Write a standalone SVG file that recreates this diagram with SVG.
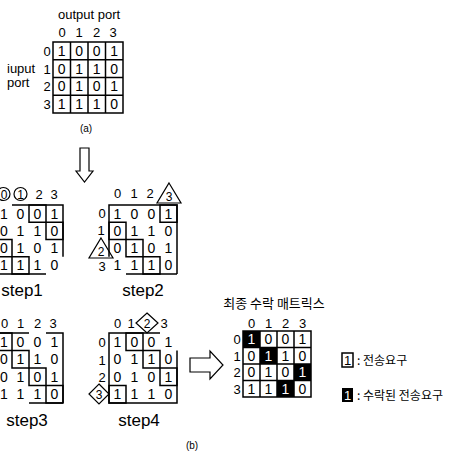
<svg xmlns="http://www.w3.org/2000/svg" width="472" height="453" viewBox="0 0 472 453">
<style>
text{font-family:"Liberation Sans",Arial,sans-serif;fill:#000}
.d{font-size:14px;text-anchor:middle}
.h{font-size:13px;text-anchor:middle}
.s{font-size:17px;text-anchor:middle}
.k{font-family:"Noto Sans CJK KR","Liberation Sans",sans-serif;font-size:12px}
.ln{stroke:#000;stroke-width:1.5;fill:none}
.bx{stroke:#000;stroke-width:1.5;fill:none}
.mk{stroke:#000;stroke-width:1.2;fill:#fff}
.w{fill:#fff}
</style>
<rect width="472" height="453" fill="#fff"/>

<g id="matrix-a">
<text x="89" y="19" class="h">output port</text>
<text x="62" y="37" class="h">0</text><text x="79" y="37" class="h">1</text><text x="96.5" y="37" class="h">2</text><text x="113" y="37" class="h">3</text>
<text x="7" y="73" style="font-size:13px">iuput</text>
<text x="7" y="87" style="font-size:13px">port</text>
<text x="47" y="56" class="h">0</text><text x="47" y="73.5" class="h">1</text><text x="47" y="91" class="h">2</text><text x="47" y="109" class="h">3</text>
<path class="ln" d="M53,42H123V113H53Z M70.5,42V113 M88,42V113 M105.5,42V113 M53,59.75H123 M53,77.5H123 M53,95.25H123"/>
<g class="d">
<text x="61.75" y="55.9">1</text><text x="79.25" y="55.9">0</text><text x="96.75" y="55.9">0</text><text x="114.25" y="55.9">1</text>
<text x="61.75" y="73.6">0</text><text x="79.25" y="73.6">1</text><text x="96.75" y="73.6">1</text><text x="114.25" y="73.6">0</text>
<text x="61.75" y="91.4">0</text><text x="79.25" y="91.4">1</text><text x="96.75" y="91.4">0</text><text x="114.25" y="91.4">1</text>
<text x="61.75" y="109.1">1</text><text x="79.25" y="109.1">1</text><text x="96.75" y="109.1">1</text><text x="114.25" y="109.1">0</text>
</g>
<text x="86" y="132" style="font-size:10px;text-anchor:middle">(a)</text>
</g>

<g id="step1">
<circle class="mk" cx="3.5" cy="194" r="6.5"/><circle class="mk" cx="20.5" cy="194" r="6.5"/>
<text x="4" y="198.5" class="h" style="font-size:12px">0</text><text x="20.5" y="198.5" class="h" style="font-size:12px">1</text>
<text x="39" y="199" class="h">2</text><text x="54" y="199" class="h">3</text>
<path class="ln" d="M12,205H63V256.75 M-5,274H46"/>
<path class="bx" d="M29,205h17v17.25h-17z M46,222.25h17v17.25h-17z M-5,239.5h17v17.25h-17z M12,256.75h17v17.25h-17z"/>
<g class="d">
<text x="4" y="218.6">1</text><text x="20.5" y="218.6">0</text><text x="37.5" y="218.6">0</text><text x="54.5" y="218.6">1</text>
<text x="4" y="235.9">0</text><text x="20.5" y="235.9">1</text><text x="37.5" y="235.9">1</text><text x="54.5" y="235.9">0</text>
<text x="4" y="253.1">0</text><text x="20.5" y="253.1">1</text><text x="37.5" y="253.1">0</text><text x="54.5" y="253.1">1</text>
<text x="4" y="270.4">1</text><text x="20.5" y="270.4">1</text><text x="37.5" y="270.4">1</text><text x="54.5" y="270.4">0</text>
</g>
<text x="22" y="296" class="s">step1</text>
</g>

<g id="step2">
<text x="117.5" y="198" class="h">0</text><text x="134" y="198" class="h">1</text><text x="150" y="198" class="h">2</text>
<polygon class="mk" points="169,183 181,203 157,203"/>
<text x="169" y="201" class="h" style="font-size:12px">3</text>
<text x="102" y="218" class="h">0</text><text x="101" y="235" class="h">1</text>
<polygon class="mk" points="101,238 113,258 89,258"/>
<text x="101" y="256" class="h" style="font-size:12px">2</text>
<text x="102" y="271" class="h">3</text>
<path class="ln" d="M109,256.75V205H177V274 M126,274H177"/>
<path class="bx" d="M160,205h17v17.25h-17z M109,222.25h17v17.25h-17z M126,239.5h17v17.25h-17z M143,256.75h17v17.25h-17z"/>
<g class="d">
<text x="117.5" y="218.6">1</text><text x="134.5" y="218.6">0</text><text x="151.5" y="218.6">0</text><text x="168.5" y="218.6">1</text>
<text x="117.5" y="235.9">0</text><text x="134.5" y="235.9">1</text><text x="151.5" y="235.9">1</text><text x="168.5" y="235.9">0</text>
<text x="117.5" y="253.1">0</text><text x="134.5" y="253.1">1</text><text x="151.5" y="253.1">0</text><text x="168.5" y="253.1">1</text>
<text x="117.5" y="270.4">1</text><text x="134.5" y="270.4">1</text><text x="151.5" y="270.4">1</text><text x="168.5" y="270.4">0</text>
</g>
<text x="143" y="296" class="s">step2</text>
</g>

<g id="step3">
<text x="4.5" y="328" class="h">0</text><text x="20.5" y="328" class="h">1</text><text x="37.5" y="328" class="h">2</text><text x="53" y="328" class="h">3</text>
<path class="ln" d="M-5,333H29 M46,333H63V403 M29,403H63"/>
<path class="bx" d="M-5,333h17v17.5h-17z M12,350.5h17v17.5h-17z M29,368h17v17.5h-17z M46,385.5h17v17.5h-17z"/>
<g class="d">
<text x="4" y="346.8">1</text><text x="20.5" y="346.8">0</text><text x="37.5" y="346.8">0</text><text x="54.5" y="346.8">1</text>
<text x="4" y="364.3">0</text><text x="20.5" y="364.3">1</text><text x="37.5" y="364.3">1</text><text x="54.5" y="364.3">0</text>
<text x="4" y="381.8">0</text><text x="20.5" y="381.8">1</text><text x="37.5" y="381.8">0</text><text x="54.5" y="381.8">1</text>
<text x="4" y="399.3">1</text><text x="20.5" y="399.3">1</text><text x="37.5" y="399.3">1</text><text x="54.5" y="399.3">0</text>
</g>
<text x="27" y="426" class="s">step3</text>
</g>

<g id="step4">
<text x="117.5" y="328" class="h">0</text><text x="131" y="328" class="h">1</text>
<polygon class="mk" points="147,313 158,323 147,333 136,323"/>
<text x="147" y="327.5" class="h" style="font-size:12px">2</text>
<text x="164" y="328" class="h">3</text>
<text x="102" y="347" class="h">0</text><text x="102" y="364.5" class="h">1</text><text x="102" y="382" class="h">2</text>
<polygon class="mk" points="99,384 109,394 99,404 89,394"/>
<text x="99" y="398.5" class="h" style="font-size:12px">3</text>
<path class="ln" d="M160,333H109V403H177V350.5"/>
<path class="bx" d="M126,333h17v17.5h-17z M143,350.5h17v17.5h-17z M160,368h17v17.5h-17z M109,385.5h17v17.5h-17z"/>
<g class="d">
<text x="117.5" y="346.8">1</text><text x="134.5" y="346.8">0</text><text x="151.5" y="346.8">0</text><text x="168.5" y="346.8">1</text>
<text x="117.5" y="364.3">0</text><text x="134.5" y="364.3">1</text><text x="151.5" y="364.3">1</text><text x="168.5" y="364.3">0</text>
<text x="117.5" y="381.8">0</text><text x="134.5" y="381.8">1</text><text x="151.5" y="381.8">0</text><text x="168.5" y="381.8">1</text>
<text x="117.5" y="399.3">1</text><text x="134.5" y="399.3">1</text><text x="151.5" y="399.3">1</text><text x="168.5" y="399.3">0</text>
</g>
<text x="139" y="426" class="s">step4</text>
<text x="192" y="449" style="font-size:10px;text-anchor:middle">(b)</text>
</g>

<g id="final-matrix">
<text x="274" y="308" class="k" style="font-size:13px;text-anchor:middle">최종 수락 매트릭스</text>
<text x="251.5" y="328" class="h">0</text><text x="268.5" y="328" class="h">1</text><text x="285.5" y="328" class="h">2</text><text x="302.5" y="328" class="h">3</text>
<text x="237" y="344" class="h">0</text><text x="237" y="360.5" class="h">1</text><text x="237" y="377" class="h">2</text><text x="237" y="393.5" class="h">3</text>
<rect x="243" y="331" width="17" height="16.5"/>
<rect x="260" y="347.5" width="17" height="16.5"/>
<rect x="294" y="364" width="17" height="16.5"/>
<rect x="277" y="380.5" width="17" height="16.5"/>
<path class="ln" d="M243,331H311V397H243Z M260,331V397 M277,331V397 M294,331V397 M243,347.5H311 M243,364H311 M243,380.5H311"/>
<g class="d">
<text x="251.5" y="344.3" class="w">1</text><text x="268.5" y="344.3">0</text><text x="285.5" y="344.3">0</text><text x="302.5" y="344.3">1</text>
<text x="251.5" y="360.8">0</text><text x="268.5" y="360.8" class="w">1</text><text x="285.5" y="360.8">1</text><text x="302.5" y="360.8">0</text>
<text x="251.5" y="377.3">0</text><text x="268.5" y="377.3">1</text><text x="285.5" y="377.3">0</text><text x="302.5" y="377.3" class="w">1</text>
<text x="251.5" y="393.8">1</text><text x="268.5" y="393.8">1</text><text x="285.5" y="393.8" class="w">1</text><text x="302.5" y="393.8">0</text>
</g>
</g>

<g id="legend">
<rect x="342" y="353" width="11" height="14" class="bx"/>
<text x="347.5" y="365" class="h">1</text>
<text x="357" y="365" class="k">: 전송요구</text>
<rect x="342" y="388" width="11" height="14"/>
<text x="347.5" y="400" class="h w">1</text>
<text x="357" y="400" class="k">: 수락된 전송요구</text>
</g>

<g id="connectors">
<polygon class="mk" points="80,148 89,148 89,171 93,171 84.5,182 76,171 80,171"/>
<polygon class="mk" points="190,358 210,358 210,351 223,365 210,379 210,372 190,372"/>
</g>
</svg>
